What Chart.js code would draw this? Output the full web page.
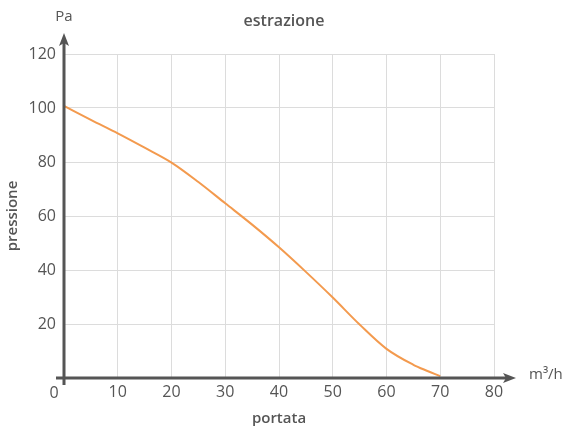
<!DOCTYPE html>
<html>
<head>
<meta charset="utf-8">
<script src="https://cdn.jsdelivr.net/npm/chart.js@4.4.0/dist/chart.umd.min.js"></script>
<style>
    html, body { margin: 0; padding: 0; background: #fff; }
    #wrap { width: 565px; height: 428px; }
</style>
</head>
<body>
<div id="wrap"><canvas id="curveChart"></canvas></div>
<script>
// Dati
const portata = [0, 5, 10, 15, 20, 25, 30, 35, 40, 45, 50, 55, 60, 65, 67.5, 70];
const pressione = [100.8, 95.6, 90.6, 85.3, 79.8, 72.6, 64.7, 56.8, 48.4, 39.3, 29.8, 19.8, 10.8, 4.9, 2.7, 0.7];
const xTicks = [0, 10, 20, 30, 40, 50, 60, 70, 80];
const yTicks = [0, 20, 40, 60, 80, 100, 120];

const textColor = '#555';
const axisColor = '#555';
const fontFamily = "'Open Sans', 'Lato', sans-serif";

// Assi con frecce, unità e titolo
const axesPlugin = {
    id: 'axesPlugin',
    afterDatasetsDraw(chart) {
        const ctx = chart.ctx;
        const x0 = chart.scales.x.getPixelForValue(0);
        const y0 = chart.scales.y.getPixelForValue(0);
        const top = chart.chartArea.top;
        const right = chart.chartArea.right;
        ctx.save();
        ctx.strokeStyle = axisColor;
        ctx.fillStyle = axisColor;
        ctx.lineWidth = 3;
        ctx.beginPath();
        ctx.moveTo(x0, y0 + 7);
        ctx.lineTo(x0, top - 14);
        ctx.moveTo(x0 - 8, y0);
        ctx.lineTo(right + 14, y0);
        ctx.stroke();
        // frecce
        ctx.beginPath();
        ctx.moveTo(x0, top - 21);
        ctx.lineTo(x0 - 5, top - 8);
        ctx.lineTo(x0, top - 11);
        ctx.lineTo(x0 + 5, top - 8);
        ctx.closePath();
        ctx.fill();
        ctx.beginPath();
        ctx.moveTo(right + 22, y0);
        ctx.lineTo(right + 9, y0 - 5);
        ctx.lineTo(right + 12, y0);
        ctx.lineTo(right + 9, y0 + 5);
        ctx.closePath();
        ctx.fill();

        ctx.fillStyle = textColor;
        ctx.textBaseline = 'middle';
        ctx.font = '15px ' + fontFamily;
        ctx.textAlign = 'center';
        ctx.fillText('Pa', x0, 17);
        ctx.textAlign = 'left';
        ctx.fillText('m³/h', right + 35, y0 - 3);
        ctx.font = '16px ' + fontFamily;
        ctx.textAlign = 'center';
        ctx.fillText('0', x0 - 10, y0 + 15);
        ctx.font = '600 16px ' + fontFamily;
        ctx.fillText('estrazione', 284, 21);
        ctx.restore();
    }
};

function createCurveChart() {
    const ctx = document.getElementById('curveChart');
    new Chart(ctx, {
        type: 'scatter',
        data: {
            datasets: [{
                data: portata.map((v, i) => ({ x: v, y: pressione[i] })),
                showLine: true,
                borderColor: '#f39a4e',
                borderWidth: 2,
                pointRadius: 0,
                cubicInterpolationMode: 'monotone'
            }]
        },
        options: {
            responsive: true,
            maintainAspectRatio: false,
            animation: false,
            layout: { padding: { top: 54, right: 71, left: 0, bottom: 0 } },
            plugins: {
                legend: { display: false },
                tooltip: { enabled: false }
            },
            scales: {
                x: {
                    type: 'linear',
                    min: 0,
                    max: 80,
                    afterBuildTicks: (scale) => { scale.ticks = xTicks.map(v => ({ value: v })); },
                    afterFit: (scale) => { scale.height = 50; },
                    border: { display: false },
                    grid: { color: '#dcdcdc', lineWidth: 1, drawTicks: false },
                    ticks: {
                        color: textColor,
                        padding: 5,
                        font: { family: fontFamily, size: 16 },
                        callback: (v) => v === 0 ? '' : v
                    },
                    title: {
                        display: true,
                        text: 'portata',
                        color: textColor,
                        padding: { top: 0, bottom: 0 },
                        font: { family: fontFamily, size: 15, weight: 600 }
                    }
                },
                y: {
                    min: 0,
                    max: 120,
                    afterBuildTicks: (scale) => { scale.ticks = yTicks.map(v => ({ value: v })); },
                    afterFit: (scale) => { scale.width = 64; },
                    border: { display: false },
                    grid: { color: '#dcdcdc', lineWidth: 1, drawTicks: false },
                    ticks: {
                        color: textColor,
                        padding: 8,
                        font: { family: fontFamily, size: 16 },
                        callback: (v) => v === 0 ? '' : v
                    },
                    title: {
                        display: true,
                        text: 'pressione',
                        color: textColor,
                        padding: { top: 4, bottom: 0 },
                        font: { family: fontFamily, size: 15, weight: 600 }
                    }
                }
            }
        },
        plugins: [axesPlugin]
    });
}

createCurveChart();
</script>
</body>
</html>
